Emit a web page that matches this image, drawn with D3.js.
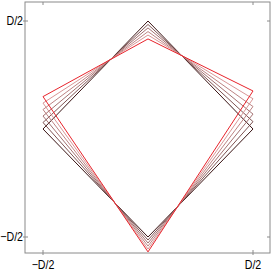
<!DOCTYPE html>
<html>
<head>
<meta charset="utf-8">
<script src="https://cdn.jsdelivr.net/npm/d3@7"></script>
<style>
  body { margin: 0; background: #fff; }
  text { font-family: "Liberation Sans", Arial, sans-serif; }
</style>
</head>
<body>
<div id="chart"></div>
<script>
// vertex heights (in units of D) for each frame, black -> red
const topY = [0.5, 0.484, 0.468, 0.451, 0.435, 0.417];
const rightY = [0.0, 0.034, 0.069, 0.104, 0.14, 0.176];
const bottomY = [-0.5, -0.514, -0.528, -0.542, -0.556, -0.569];
const leftY = [0.0, 0.03, 0.06, 0.09, 0.12, 0.15];

const tickValues = [-0.5, 0.5];
const tickLabels = ["\u2212D/2", "D/2"];

const W = 273, H = 273;
const frame = { left: 25, right: 270, top: 2, bottom: 253 };

const svg = d3.select("#chart").append("svg")
  .attr("width", W).attr("height", H);

const x = d3.scaleLinear().domain([-0.5, 0.5]).range([43, 253]);
const y = d3.scaleLinear().domain([-0.5, 0.5]).range([237, 21]);

// dark brown -> pinkish -> red
const color = d3.scaleLinear()
  .domain([0, 1.5, 4, 5])
  .range(["#3a1414", "#8a5656", "#d48a8a", "#e8232b"])
  .interpolate(d3.interpolateRgb);

const line = d3.line().x(d => x(d[0])).y(d => y(d[1]));

const shapes = topY.map((t, i) => [
  [0, t], [0.5, rightY[i]], [0, bottomY[i]], [-0.5, leftY[i]], [0, t]
]);

svg.append("g")
  .selectAll("path")
  .data(shapes)
  .enter()
  .append("path")
  .attr("d", line)
  .attr("fill", "none")
  .attr("stroke", (d, i) => color(i))
  .attr("stroke-width", (d, i) => (i === 0 || i === shapes.length - 1) ? 1 : 0.9)
  .attr("stroke-linejoin", "miter");

// frame
svg.append("rect")
  .attr("x", frame.left).attr("y", frame.top)
  .attr("width", frame.right - frame.left)
  .attr("height", frame.bottom - frame.top)
  .attr("fill", "none")
  .attr("stroke", "#8a8a8a")
  .attr("stroke-width", 1);

// ticks on all four sides
const tk = svg.append("g").attr("stroke", "#8a8a8a").attr("stroke-width", 1);
tickValues.forEach(v => {
  tk.append("line").attr("x1", x(v)).attr("x2", x(v)).attr("y1", frame.bottom - 3).attr("y2", frame.bottom + 2);
  tk.append("line").attr("x1", x(v)).attr("x2", x(v)).attr("y1", frame.top).attr("y2", frame.top + 3);
  tk.append("line").attr("y1", y(v)).attr("y2", y(v)).attr("x1", frame.left - 2).attr("x2", frame.left + 3);
  tk.append("line").attr("y1", y(v)).attr("y2", y(v)).attr("x1", frame.right - 3).attr("x2", frame.right);
});

// tick labels, horizontally condensed like the original font
svg.append("g")
  .selectAll("text")
  .data(tickValues)
  .enter()
  .append("text")
  .attr("transform", d => `translate(${x(d)},269) scale(0.85,1)`)
  .attr("text-anchor", "middle")
  .style("font-size", "12.5px")
  .text((d, i) => tickLabels[i]);

svg.append("g")
  .selectAll("text")
  .data(tickValues)
  .enter()
  .append("text")
  .attr("transform", d => `translate(${frame.left - 2},${y(d)}) scale(0.85,1)`)
  .attr("dy", "0.35em")
  .attr("text-anchor", "end")
  .style("font-size", "12.5px")
  .text((d, i) => tickLabels[i]);
</script>
</body>
</html>
